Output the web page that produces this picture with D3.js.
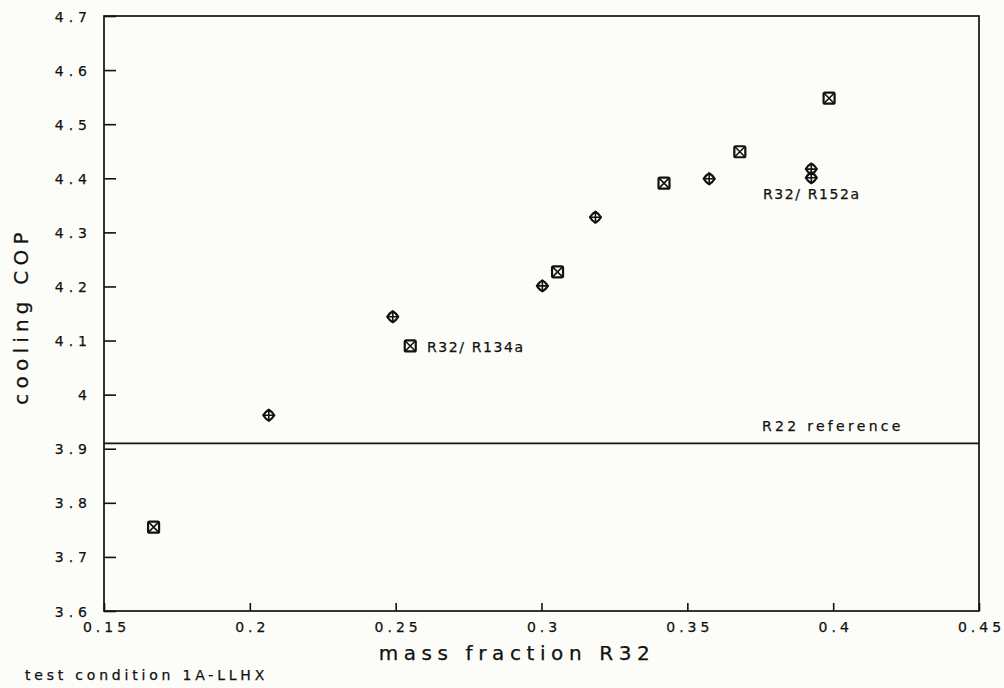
<!DOCTYPE html>
<html><head><meta charset="utf-8">
<script src="https://cdn.jsdelivr.net/npm/d3@7"></script>
<style>body{margin:0;background:#fcfcf8;} text{font-family:"DejaVu Sans",sans-serif;fill:#111;stroke:#111;stroke-width:0.25px;}</style>
</head><body><svg id="c" width="1004" height="688"></svg>
<script>
// data
const r134aX = [0.167, 0.255, 0.3055, 0.342, 0.368, 0.3986];
const r134aY = [3.755, 4.090, 4.227, 4.391, 4.449, 4.548];
const r152aX = [0.2065, 0.249, 0.3003, 0.3185, 0.3575, 0.3925, 0.3925];
const r152aY = [3.962, 4.144, 4.201, 4.328, 4.399, 4.417, 4.401];
const refValue = 3.91;
const xTicks = [0.15, 0.2, 0.25, 0.3, 0.35, 0.4, 0.45];
const xTickLabels = ["0.15", "0.2", "0.25", "0.3", "0.35", "0.4", "0.45"];
const yTicks = [3.6, 3.7, 3.8, 3.9, 4.0, 4.1, 4.2, 4.3, 4.4, 4.5, 4.6, 4.7];
const yTickLabels = ["3.6", "3.7", "3.8", "3.9", "4", "4.1", "4.2", "4.3", "4.4", "4.5", "4.6", "4.7"];

const svg = d3.select("#c");
const L = 104, R = 979, T = 16, B = 611;
const x = d3.scaleLinear().domain([0.15, 0.45]).range([L, R]);
const y = d3.scaleLinear().domain([3.6, 4.7]).range([B, T]);

svg.append("rect").attr("width",1004).attr("height",688).attr("fill","#fcfcf8");

// frame
svg.append("rect").attr("x",L).attr("y",T).attr("width",R-L).attr("height",B-T)
  .attr("fill","none").attr("stroke","#111").attr("stroke-width",1.7);

// y axis
const yAxis = d3.axisLeft(y).tickValues(yTicks).tickFormat((d,i)=>yTickLabels[i]).tickSizeInner(-12).tickSizeOuter(0).tickPadding(12);
const gy = svg.append("g").attr("transform",`translate(${L},0)`).call(yAxis);
gy.select(".domain").remove();
gy.selectAll("line").attr("stroke","#111").attr("stroke-width",1.6);
gy.selectAll("text").style("font-size","14px").style("letter-spacing","5px").attr("dy","0.36em");

// x axis
const xAxis = d3.axisBottom(x).tickValues(xTicks).tickFormat((d,i)=>xTickLabels[i]).tickSizeInner(-8).tickSizeOuter(0).tickPadding(11);
const gx = svg.append("g").attr("transform",`translate(0,${B})`).call(xAxis);
gx.select(".domain").remove();
gx.selectAll("line").attr("stroke","#111").attr("stroke-width",1.6);
gx.selectAll("text").style("font-size","14px").style("letter-spacing","4px").attr("dx","2px");

// reference line
svg.append("line").attr("x1",L).attr("x2",R).attr("y1",y(refValue)).attr("y2",y(refValue))
  .attr("stroke","#111").attr("stroke-width",1.7);
svg.append("text").attr("x",762).attr("y",y(refValue)-12).style("font-size","14px").style("letter-spacing","3.3px").text("R22 reference");

// square-x markers
const s = 5.5;
const sq = svg.append("g").selectAll("g").data(r134aX.map((d,i)=>[d,r134aY[i]])).join("g")
  .attr("transform",d=>`translate(${x(d[0])},${y(d[1])})`);
sq.append("rect").attr("x",-s).attr("y",-s).attr("width",2*s).attr("height",2*s).attr("rx",1.5)
  .attr("fill","none").attr("stroke","#111").attr("stroke-width",2.2);
sq.append("path").attr("d",`M${-s},${-s}L${s},${s}M${s},${-s}L${-s},${s}`).attr("stroke","#111").attr("stroke-width",1.6);

// diamond-cross markers
const dr = 6;
const dm = svg.append("g").selectAll("g").data(r152aX.map((d,i)=>[d,r152aY[i]])).join("g")
  .attr("transform",d=>`translate(${x(d[0])},${y(d[1])})`);
dm.append("path").attr("d",`M0,${-dr+0.5}Q${dr-2.5},${-dr+2.5} ${dr-0.5},0Q${dr-2.5},${dr-2.5} 0,${dr-0.5}Q${-dr+2.5},${dr-2.5} ${-dr+0.5},0Q${-dr+2.5},${-dr+2.5} 0,${-dr+0.5}Z`)
  .attr("fill","none").attr("stroke","#111").attr("stroke-width",2.2).attr("stroke-linejoin","round");
dm.append("path").attr("d",`M0,${-dr}L0,${dr}M${-dr},0L${dr},0`).attr("stroke","#111").attr("stroke-width",1.6);

// series labels
svg.append("text").attr("x",427).attr("y",352).style("font-size","14px").style("letter-spacing","1.6px").text("R32/ R134a");
svg.append("text").attr("x",763).attr("y",199).style("font-size","14px").style("letter-spacing","1.6px").text("R32/ R152a");

// axis titles
svg.append("text").attr("x",517).attr("y",660).attr("text-anchor","middle").style("font-size","20px").style("letter-spacing","5.6px").text("mass fraction R32");
svg.append("text").attr("transform","translate(28,316) rotate(-90)").attr("text-anchor","middle").style("font-size","20px").style("letter-spacing","5.2px").text("cooling COP");
svg.append("text").attr("x",25).attr("y",680).style("font-size","14px").style("letter-spacing","3.8px").text("test condition 1A-LLHX");
</script></body></html>
